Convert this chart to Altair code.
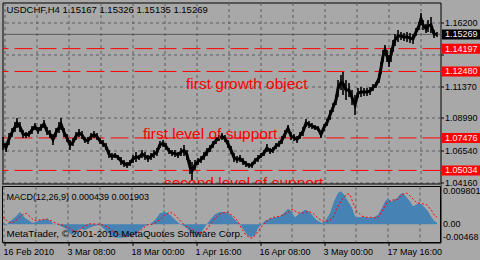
import altair as alt
import pandas as pd

# ---------------- data ----------------
# H4 bar position (one bar per pixel column) with sampled high / low prices
price_bar = [3, 6, 9, 12, 15, 17, 20, 23, 26, 29,
             32, 35, 38, 41, 44, 47, 50, 53, 56, 59,
             61, 64, 67, 70, 73, 76, 79, 82, 85, 88,
             91, 94, 97, 100, 103, 106, 109, 112, 115, 118,
             121, 124, 127, 130, 133, 136, 139, 142, 145, 148,
             151, 154, 157, 160, 163, 166, 169, 172, 175, 178,
             181, 184, 187, 190, 192, 195, 198, 201, 204, 207,
             210, 213, 216, 219, 222, 225, 228, 231, 234, 237,
             240, 243, 246, 249, 252, 255, 258, 261, 264, 267,
             270, 273, 276, 279, 282, 285, 288, 291, 294, 297,
             300, 303, 306, 309, 312, 315, 318, 321, 324, 327,
             330, 333, 336, 338, 341, 343, 346, 349, 352, 355,
             358, 361, 364, 367, 370, 373, 376, 379, 381, 383,
             385, 387, 389, 391, 393, 395, 398, 401, 404, 407,
             410, 413, 416, 419, 421, 423, 426, 428, 431, 434,
             437]
price_high = [1.0754, 1.0709, 1.0784, 1.0823, 1.0868, 1.0898, 1.0868, 1.0807, 1.0792, 1.0800,
              1.0838, 1.0860, 1.0830, 1.0853, 1.0883, 1.0830, 1.0807, 1.0777, 1.0823, 1.0868,
              1.0898, 1.0823, 1.0777, 1.0732, 1.0747, 1.0792, 1.0815, 1.0800, 1.0754, 1.0754,
              1.0784, 1.0800, 1.0784, 1.0747, 1.0732, 1.0709, 1.0657, 1.0634, 1.0634, 1.0619,
              1.0604, 1.0582, 1.0567, 1.0582, 1.0619, 1.0642, 1.0619, 1.0657, 1.0642, 1.0619,
              1.0634, 1.0657, 1.0672, 1.0725, 1.0732, 1.0709, 1.0672, 1.0657, 1.0657, 1.0642,
              1.0672, 1.0694, 1.0657, 1.0582, 1.0567, 1.0582, 1.0597, 1.0612, 1.0642, 1.0672,
              1.0694, 1.0725, 1.0754, 1.0769, 1.0784, 1.0769, 1.0732, 1.0687, 1.0634, 1.0612,
              1.0619, 1.0597, 1.0574, 1.0559, 1.0567, 1.0597, 1.0619, 1.0634, 1.0657, 1.0702,
              1.0672, 1.0679, 1.0709, 1.0725, 1.0762, 1.0807, 1.0845, 1.0792, 1.0777, 1.0762,
              1.0792, 1.0830, 1.0890, 1.0875, 1.0860, 1.0845, 1.0838, 1.0800, 1.0853, 1.0890,
              1.0958, 1.1011, 1.1071, 1.1184, 1.1221, 1.1244, 1.1184, 1.1161, 1.1108, 1.1071,
              1.1123, 1.1131, 1.1123, 1.1123, 1.1131, 1.1154, 1.1169, 1.1229, 1.1319, 1.1409,
              1.1447, 1.1409, 1.1372, 1.1425, 1.1485, 1.1530, 1.1560, 1.1545, 1.1537, 1.1545,
              1.1537, 1.1530, 1.1575, 1.1620, 1.1688, 1.1635, 1.1605, 1.1635, 1.1658, 1.1560,
              1.1545]
price_low = [1.0657, 1.0642, 1.0694, 1.0754, 1.0792, 1.0823, 1.0792, 1.0747, 1.0747, 1.0754,
             1.0777, 1.0807, 1.0777, 1.0800, 1.0823, 1.0769, 1.0747, 1.0694, 1.0754, 1.0784,
             1.0807, 1.0754, 1.0717, 1.0657, 1.0687, 1.0732, 1.0754, 1.0739, 1.0709, 1.0702,
             1.0732, 1.0747, 1.0732, 1.0702, 1.0679, 1.0657, 1.0597, 1.0582, 1.0597, 1.0582,
             1.0544, 1.0529, 1.0522, 1.0537, 1.0559, 1.0567, 1.0582, 1.0597, 1.0582, 1.0567,
             1.0582, 1.0597, 1.0612, 1.0672, 1.0679, 1.0657, 1.0627, 1.0612, 1.0604, 1.0597,
             1.0612, 1.0612, 1.0582, 1.0476, 1.0431, 1.0506, 1.0544, 1.0559, 1.0582, 1.0612,
             1.0642, 1.0672, 1.0702, 1.0725, 1.0732, 1.0717, 1.0672, 1.0627, 1.0567, 1.0559,
             1.0567, 1.0544, 1.0529, 1.0522, 1.0522, 1.0552, 1.0567, 1.0597, 1.0612, 1.0642,
             1.0627, 1.0634, 1.0664, 1.0679, 1.0702, 1.0747, 1.0792, 1.0732, 1.0725, 1.0709,
             1.0739, 1.0762, 1.0830, 1.0823, 1.0815, 1.0807, 1.0800, 1.0747, 1.0800, 1.0838,
             1.0883, 1.0943, 1.0996, 1.1056, 1.1108, 1.1071, 1.1033, 1.1056, 1.0996, 1.0920,
             1.1048, 1.1056, 1.1063, 1.1063, 1.1071, 1.1101, 1.1123, 1.1161, 1.1229, 1.1319,
             1.1372, 1.1319, 1.1282, 1.1319, 1.1394, 1.1440, 1.1470, 1.1485, 1.1477, 1.1470,
             1.1462, 1.1455, 1.1515, 1.1560, 1.1598, 1.1560, 1.1537, 1.1545, 1.1537, 1.1500,
             1.1507]

# MACD main (histogram) and signal line
macd_bar = [3, 6, 8, 10, 15, 20, 25, 30, 33, 37, 42, 47, 50, 53, 57, 62, 67, 71, 75, 80,
            85, 90, 95, 100, 105, 110, 115, 120, 125, 130, 135, 140, 145, 150, 155, 160, 165, 170, 175, 180,
            185, 190, 195, 200, 205, 210, 215, 220, 225, 230, 235, 240, 244, 247, 250, 255, 258, 262, 265, 270,
            275, 280, 285, 288, 291, 295, 300, 305, 308, 312, 316, 320, 322, 325, 330, 334, 338, 341, 344, 348,
            352, 355, 358, 362, 366, 370, 374, 378, 382, 385, 388, 391, 394, 397, 400, 403, 406, 410, 413, 416,
            419, 422, 425, 428, 431, 434, 437]
macd_main = [0.0005, -0.0004, 0.0002, 0.0008, 0.0018, 0.0032, 0.0016, 0.0008, 0.0003, 0.0008,
             0.0012, 0.0014, 0.0009, 0.0002, -0.0001, -0.0006, -0.0014, -0.0028, -0.0024, -0.0011,
             -0.0015, -0.0009, -0.0004, -0.0002, -0.0015, -0.0028, -0.0035, -0.0036, -0.0035, -0.0032,
             -0.0028, -0.0015, -0.0004, 0.0000, 0.0011, 0.0029, 0.0032, 0.0025, 0.0012, 0.0000,
             -0.0006, -0.0019, -0.0032, -0.0028, -0.0006, 0.0011, 0.0026, 0.0032, 0.0032, 0.0025,
             0.0012, 0.0000, -0.0016, -0.0028, -0.0034, -0.0030, -0.0010, 0.0000, 0.0009, 0.0014,
             0.0018, 0.0020, 0.0032, 0.0041, 0.0034, 0.0018, 0.0029, 0.0038, 0.0035, 0.0025,
             0.0012, 0.0006, 0.0003, 0.0008, 0.0029, 0.0060, 0.0082, 0.0087, 0.0078, 0.0060,
             0.0043, 0.0020, 0.0018, 0.0019, 0.0018, 0.0016, 0.0018, 0.0025, 0.0043, 0.0060,
             0.0068, 0.0060, 0.0064, 0.0068, 0.0078, 0.0082, 0.0073, 0.0060, 0.0047, 0.0051,
             0.0056, 0.0051, 0.0043, 0.0034, 0.0020, 0.0009, 0.0004]
signal_bar = [3, 8, 12, 17, 22, 26, 30, 34, 40, 47, 52, 57, 62, 68, 74, 78, 83, 90, 100, 107,
              113, 120, 127, 133, 140, 147, 153, 160, 165, 170, 175, 180, 185, 192, 198, 205, 210, 215, 220, 227,
              233, 238, 240, 245, 250, 253, 258, 263, 268, 273, 280, 287, 292, 298, 303, 308, 313, 318, 323, 328,
              333, 337, 342, 347, 350, 353, 357, 362, 367, 372, 377, 380, 383, 387, 392, 397, 402, 407, 412, 417,
              422, 427, 432, 435, 437]
signal_val = [0.0020, 0.0006, 0.0003, 0.0012, 0.0024, 0.0029, 0.0020, 0.0010, 0.0011, 0.0014,
              0.0008, 0.0001, -0.0002, -0.0008, -0.0018, -0.0019, -0.0008, 0.0001, 0.0000, -0.0006,
              -0.0019, -0.0028, -0.0032, -0.0028, -0.0019, -0.0002, 0.0000, 0.0012, 0.0025, 0.0032,
              0.0024, 0.0010, -0.0004, -0.0014, -0.0023, -0.0019, -0.0002, 0.0016, 0.0027, 0.0032,
              0.0022, 0.0008, -0.0004, -0.0026, -0.0036, -0.0036, -0.0019, -0.0002, 0.0012, 0.0018,
              0.0021, 0.0029, 0.0040, 0.0030, 0.0029, 0.0034, 0.0029, 0.0016, 0.0008, 0.0008,
              0.0016, 0.0043, 0.0064, 0.0080, 0.0078, 0.0056, 0.0034, 0.0021, 0.0018, 0.0018,
              0.0016, 0.0025, 0.0038, 0.0056, 0.0064, 0.0064, 0.0078, 0.0082, 0.0069, 0.0056,
              0.0054, 0.0051, 0.0034, 0.0021, 0.0019]

# horizontal levels, labels and texts
level_prices = [1.14197, 1.12480, 1.07476, 1.05034]
current_price = 1.15269
price_ticks = [1.16200, 1.13750, 1.11370, 1.08990, 1.06540, 1.04160]
tag_prices = [1.15269, 1.14197, 1.12480, 1.07476, 1.05034]
tag_kinds = ["bid", "level", "level", "level", "level"]
note_texts = ["first growth object", "first level of support", "second level of support"]
note_bar = [186, 143, 164]
note_price = [1.1116, 1.0740, 1.0368]
grid_bars = [4, 36, 68, 100, 132, 164, 196, 228, 260, 292, 324, 356, 388, 420]
date_bars = [4, 68, 132, 196, 260, 324, 388]
date_labels = ["16 Feb 2010", "3 Mar 08:00", "18 Mar 00:00", "1 Apr 16:00",
               "16 Apr 08:00", "3 May 00:00", "17 May 16:00"]
macd_tags = [0.009801, 0.0, -0.00468]
macd_tag_text = ["0.009801", "0.00", "-0.00468"]
title_text = "USDCHF,H4  1.15167 1.15326 1.15135 1.15269"
macd_text = "MACD(12,26,9) 0.000439 0.001903"
copy_text = "MetaTrader, \u00a9 2001-2010 MetaQuotes Software Corp."

# ---------------- layout / styling ----------------
BG = "#a8a8a8"
GRID = "#5c5c5c"
RED = "#ff0000"
FONT = "Liberation Sans"
W, H = 438, 240            # one view holding both panels
X_DOM = [2.5, 440.5]
P_DOM = [0.99608, 1.17668]  # price panel occupies the upper 182 px
M_DOM = [-0.004818, 0.05837]  # MACD panel occupies the lower 56 px
M_TOP = 0.009926            # MACD panel upper frame
M_GAP = 0.010585            # gap between the panels (price panel lower frame)

x_scale = alt.Scale(domain=X_DOM, nice=False, zero=False)
py_scale = alt.Scale(domain=P_DOM, nice=False, zero=False)
my_scale = alt.Scale(domain=M_DOM, nice=False, zero=False)

label_expr = " : ".join(f"datum.value == {b} ? '{t}'" for b, t in zip(date_bars, date_labels)) + " : ''"
x_axis = alt.Axis(values=grid_bars, labelExpr=label_expr, grid=True, gridDash=[3, 3],
                  gridColor=GRID, gridOpacity=1, domain=False, tickSize=3, tickColor="black",
                  tickOpacity={"condition": {"test": "(datum.value - 4) % 64 == 0", "value": 1}, "value": 0},
                  labelAlign="left", labelPadding=2, labelOffset=-1, labelFont=FONT,
                  labelFontSize=9, labelColor="black", title=None, labelFlush=False,
                  labelOverlap=False)
py_axis = alt.Axis(orient="right", values=price_ticks,
                   labelExpr="datum.value == 1.1375 ? '' : format(datum.value, '.5f')",
                   grid=True, gridDash=[3, 3], gridColor=GRID, gridOpacity=1, domain=False,
                   tickSize=3, tickColor="black", labelPadding=1, title=None,
                   labelFont=FONT, labelFontSize=9, labelColor="black")


def X(field="bar"):
    return alt.X(f"{field}:Q", scale=x_scale, axis=x_axis)


def PY(field):
    return alt.Y(f"{field}:Q", scale=py_scale, axis=py_axis)


def MY(field):
    return alt.Y(f"{field}:Q", scale=my_scale, axis=None)


# ---------------- price panel ----------------
price_df = pd.DataFrame({"bar": price_bar, "high": price_high, "low": price_low})
levels_df = pd.DataFrame({"p": level_prices})
cur_df = pd.DataFrame({"p": [current_price]})
tags_df = pd.DataFrame({"p": tag_prices, "kind": tag_kinds,
                        "txt": [f"{v:.5f}" for v in tag_prices]})
notes_df = pd.DataFrame({"bar": note_bar, "p": note_price, "txt": note_texts})
title_df = pd.DataFrame({"t": [title_text]})

levels = alt.Chart(levels_df).mark_rule(color=RED, strokeDash=[18, 6], strokeWidth=1).encode(y=PY("p"))
cur = alt.Chart(cur_df).mark_rule(color="#5a5a5a", strokeWidth=1).encode(y=PY("p"))
bars = alt.Chart(price_df).mark_rule(color="black", strokeWidth=1.6).encode(
    x=X(), y=PY("high"), y2="low:Q")
band_line = alt.Chart(price_df).transform_calculate(mid="(datum.high + datum.low) / 2").mark_line(
    color="black", strokeWidth=3).encode(x=X(), y=PY("mid"))
notes = alt.Chart(notes_df).mark_text(color=RED, font=FONT, fontSize=15.5, align="left",
                                      baseline="alphabetic").encode(x=X(), y=PY("p"), text="txt:N")
title = alt.Chart(title_df).mark_text(align="left", baseline="middle", font=FONT, fontSize=9.5,
                                      color="black").encode(x=alt.value(4), y=alt.value(7.5), text="t:N")
tag_box = alt.Chart(tags_df).mark_tick(orient="horizontal", size=38, thickness=10, opacity=1).encode(
    x=alt.value(W + 20.5), y=PY("p"),
    color=alt.Color("kind:N", scale=alt.Scale(domain=["bid", "level"], range=["black", RED]), legend=None))
tag_txt = alt.Chart(tags_df).mark_text(align="left", baseline="middle", font=FONT, fontSize=9,
                                       color="#fff0f0").encode(x=alt.value(W + 4.5), y=PY("p"), text="txt:N")

price_layer = alt.layer(levels, cur, bars, band_line, notes, title, tag_box, tag_txt)

# ---------------- MACD panel ----------------
macd_df = pd.DataFrame({"bar": macd_bar, "v": macd_main})
sig_df = pd.DataFrame({"bar": signal_bar, "v": signal_val})
frame_df = pd.DataFrame({"x1": [X_DOM[0]], "x2": [X_DOM[1]], "gtop": [M_GAP], "top": [M_TOP],
                         "bot": [M_DOM[0]]})
mgrid_df = pd.DataFrame({"bar": grid_bars, "top": [M_TOP] * len(grid_bars),
                         "bot": [M_DOM[0]] * len(grid_bars)})
mtext_df = pd.DataFrame({"t": [macd_text, copy_text], "yy": [194.0, 231.5], "fs": [9.0, 9.8]})

gap = alt.Chart(frame_df).mark_rect(color=BG).encode(
    x=alt.X("x1:Q", scale=x_scale, axis=x_axis), x2="x2:Q", y=MY("gtop"), y2="bot:Q")
frame = alt.Chart(frame_df).mark_rect(fill=BG, stroke="black", strokeWidth=1).encode(
    x=alt.X("x1:Q", scale=x_scale, axis=x_axis), x2="x2:Q", y=MY("top"), y2="bot:Q")
price_floor = alt.Chart(frame_df).mark_rule(color="black", strokeWidth=1).encode(
    x=alt.X("x1:Q", scale=x_scale, axis=x_axis), x2="x2:Q", y=MY("gtop"))
mgrid = alt.Chart(mgrid_df).mark_rule(color=GRID, strokeDash=[3, 3], strokeWidth=1).encode(
    x=X(), y=MY("top"), y2="bot:Q")
hist = alt.Chart(macd_df).mark_area(color="#4682b4").encode(x=X(), y=MY("v"))
sig = alt.Chart(sig_df).mark_line(color=RED, strokeDash=[2, 2], strokeWidth=1).encode(x=X(), y=MY("v"))
mtexts = alt.Chart(mtext_df).mark_text(align="left", baseline="middle", font=FONT,
                                       color="black").encode(
    x=alt.value(4), y=alt.Y("yy:Q", scale=None, axis=None), text="t:N",
    size=alt.Size("fs:Q", scale=None, legend=None))
mt_top = alt.Chart(pd.DataFrame({"v": [macd_tags[0]], "txt": [macd_tag_text[0]]})).mark_text(
    align="left", baseline="top", font=FONT, fontSize=9, color="black").encode(
    x=alt.value(W + 2.5), y=MY("v"), text="txt:N")
mt_mid = alt.Chart(pd.DataFrame({"v": [macd_tags[1]], "txt": [macd_tag_text[1]]})).mark_text(
    align="left", baseline="middle", font=FONT, fontSize=9, color="black").encode(
    x=alt.value(W + 2.5), y=MY("v"), text="txt:N")
mt_bot = alt.Chart(pd.DataFrame({"v": [macd_tags[2]], "txt": [macd_tag_text[2]]})).mark_text(
    align="left", baseline="bottom", font=FONT, fontSize=9, color="black").encode(
    x=alt.value(W + 2.5), y=MY("v"), text="txt:N")

macd_layer = alt.layer(gap, frame, mgrid, hist, sig, price_floor, mtexts, mt_top, mt_mid, mt_bot)

chart = alt.layer(price_layer, macd_layer).resolve_scale(y="independent").properties(
    width=W, height=H,
    autosize=alt.AutoSizeParams(type="none"),
    padding={"left": 2.5, "top": 2.5, "right": 39.5, "bottom": 17.5},
).configure(background=BG).configure_view(stroke="black", strokeWidth=1)

chart.save("out.html", embed_options={"renderer": "svg", "actions": False})
